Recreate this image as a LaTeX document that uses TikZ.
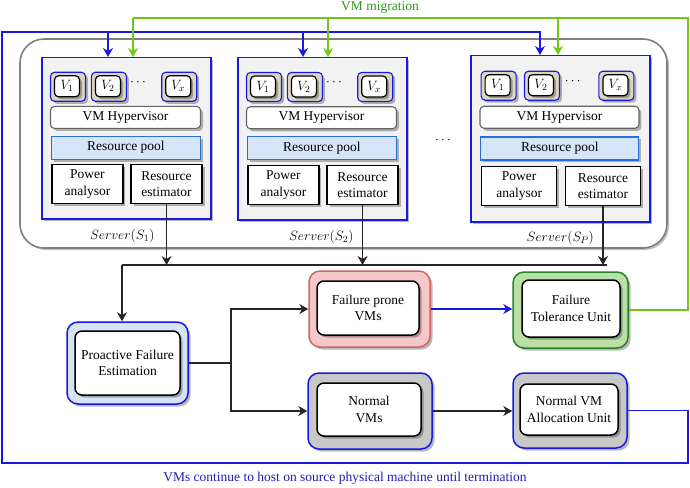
\RequirePackage{fix-cm}
\documentclass[tikz,border=0pt]{standalone}
\usepackage{fontspec}
\setmainfont{Liberation Serif}
\usetikzlibrary{arrows.meta,shadows,calc}
\definecolor{myblue}{RGB}{25,25,225}
\definecolor{txtblue}{RGB}{30,30,180}
\definecolor{mygreen}{RGB}{110,200,20}
\definecolor{txtgreen}{RGB}{50,150,30}
\definecolor{tanfill}{RGB}{218,214,192}
\definecolor{poolfill}{RGB}{214,230,248}
\definecolor{poolline}{RGB}{40,110,215}
\definecolor{pfefill}{RGB}{214,228,246}
\definecolor{redfill}{RGB}{244,200,200}
\definecolor{redline}{RGB}{210,100,100}
\definecolor{grnfill}{RGB}{186,224,168}
\definecolor{grnline}{RGB}{40,130,40}
\definecolor{grayfill}{RGB}{200,200,200}
\tikzset{
  shad/.style={drop shadow={shadow xshift=2.5pt,shadow yshift=-2.5pt,fill=black,opacity=0.28}},
  server/.style={draw=myblue,fill=black!5,line width=1.5pt,shad},
  vout/.style={draw=myblue,fill=tanfill,rounded corners=4pt,line width=1.1pt,minimum width=35,minimum height=29,shad},
  vin/.style={draw=black,fill=white,rounded corners=4pt,line width=1.2pt,minimum width=25,minimum height=21,inner sep=0pt,shad},
  hyp/.style={draw=black!60,fill=white,rounded corners=4pt,line width=1.1pt,minimum height=22,inner sep=0pt,shad},
  pool/.style={draw=poolline,fill=poolfill,line width=1.1pt,minimum height=23,inner sep=0pt,shad},
  comp/.style={draw=black,fill=white,line width=1.3pt,minimum height=39,align=center,inner sep=0pt,shad},
  outerbox/.style={line width=1.5pt,rounded corners=11pt,shad},
  innerbox/.style={draw=black,fill=white,line width=1.5pt,rounded corners=7pt,align=center,inner sep=0pt,shad},
  bline/.style={draw=myblue,line width=1.3pt},
  gline/.style={draw=mygreen,line width=1.3pt},
  kline/.style={draw=black!85,line width=1.4pt},
  tip/.style={-{Stealth[length=9pt,width=10pt]}},
}
\newcommand{\mkserver}[5]{%
  \node[server,anchor=north west,minimum width=#4,minimum height=#5] (#1) at (#2,#3) {};
  \node[vout] (#1v1o) at ($(#1.north west)+({0.16*#4},{0.185*#5})$) {};
  \node[vin] (#1v1) at ($(#1v1o.center)+(-1,-0.5)$) {$V_1$};
  \node[vout] (#1v2o) at ($(#1.north west)+({0.402*#4},{0.185*#5})$) {};
  \node[vin] (#1v2) at ($(#1v2o.center)+(-1,-0.5)$) {$V_2$};
  \node (#1dots) at ($(#1.north west)+({0.574*#4},{0.16*#5})$) {$\cdots$};
  \node[vout] (#1vxo) at ($(#1.north west)+({0.818*#4},{0.185*#5})$) {};
  \node[vin] (#1vx) at ($(#1vxo.center)+(-1,-0.5)$) {$V_x$};
  \node[hyp,minimum width={0.888*#4}] (#1hyp) at ($(#1.north west)+({0.5*#4},{0.375*#5})$) {VM Hypervisor};
  \node[pool,minimum width={0.882*#4}] (#1pool) at ($(#1.north west)+({0.502*#4},{0.563*#5})$) {Resource pool};
  \node[comp,minimum width={0.42*#4}] (#1pa) at ($(#1.north west)+({0.275*#4},{0.79*#5})$) {Power\\analysor};
  \node[comp,minimum width={0.42*#4}] (#1re) at ($(#1.north west)+({0.743*#4},{0.79*#5})$) {Resource\\estimator};
}
\begin{document}
\fontsize{13.5}{16.5}\selectfont
\begin{tikzpicture}[x=1pt,y=-1pt]
\useasboundingbox (0,0) rectangle (690,487);
% big gray container
\draw[draw=black!50,fill=white,line width=1.6pt,rounded corners=24pt,drop shadow={shadow xshift=2pt,shadow yshift=-2pt,fill=black,opacity=0.25}] (20,39) rectangle (667,248);
% servers
\mkserver{sa}{41}{57}{169}{161}
\mkserver{sb}{237}{57}{169}{162}
\mkserver{sc}{470}{55}{179}{166}
\node (la) at ($(sa.south)+(-4,17)$) {$Server(S_1)$};
\node (lb) at ($(sb.south)+(-1,17)$) {$Server(S_2)$};
\node (lc) at ($(sc.south)+(0,16)$) {$Server(S_P)$};
\node (mdots) at (443,140) {$\cdots$};
% bottom boxes
\node[outerbox,draw=myblue,fill=pfefill,minimum width=121,minimum height=82] (pfeO) at (127.5,363) {};
\node[innerbox,minimum width=105,minimum height=64] (pfe) at (127.5,363) {Proactive Failure\\Estimation};
\node[outerbox,draw=redline,fill=redfill,minimum width=121,minimum height=76] (fpO) at (369.5,309) {};
\node[innerbox,minimum width=102,minimum height=54] (fp) at (368,308) {Failure prone\\VMs};
\node[outerbox,draw=grnline,fill=grnfill,minimum width=115,minimum height=76] (ftuO) at (570.5,310) {};
\node[innerbox,minimum width=98,minimum height=57] (ftu) at (571,308.5) {Failure\\Tolerance Unit};
\node[outerbox,draw=myblue,fill=grayfill,minimum width=124,minimum height=76] (nvmO) at (370,411) {};
\node[innerbox,minimum width=104,minimum height=53] (nvm) at (369,409.5) {Normal\\VMs};
\node[outerbox,draw=myblue,fill=grayfill,minimum width=114,minimum height=75] (nvauO) at (570,410.5) {};
\node[innerbox,minimum width=98,minimum height=51] (nvau) at (569,409.5) {Normal VM\\Allocation Unit};
% bus from estimators
\coordinate (busL) at (122,265);
\coordinate (busR) at (607,265);
\draw[kline] (busL) -- (busR);
\draw[kline,tip] (sare.south) -- (sare.south |- busL);
\draw[kline,tip] (sbre.south) -- (sbre.south |- busL);
\draw[kline,tip] (scre.south) -- (scre.south |- busL);
\draw[kline,tip] (busL) -- (busL |- pfeO.north);
% split
\coordinate (split) at (231,363);
\draw[kline] (pfeO.east |- split) -- (split);
\draw[kline,tip] (split) |- (fpO.west);
\draw[kline,tip] (split) |- (nvmO.west);
\draw[bline,tip] (fpO.east) -- (fpO.east -| ftuO.west);
\draw[kline,tip] (nvmO.east) -- (nvmO.east -| nvauO.west);
% blue return loop
\coordinate (bBR) at (688,463);
\coordinate (bTL) at (2,32);
\coordinate (b1) at (108,32);
\coordinate (b2) at (303,32);
\coordinate (b3) at (540,32);
\draw[bline,tip] (nvauO.east) -| (bBR) -| (bTL) -| (b3 |- sc.north);
\draw[bline,tip] (b1) -- (b1 |- sa.north);
\draw[bline,tip] (b2) -- (b2 |- sb.north);
% green migration loop
\coordinate (gTR) at (688,18);
\coordinate (g1) at (133,18);
\coordinate (g2) at (328,18);
\coordinate (g3) at (558,18);
\draw[gline,tip] (ftuO.east) -| (gTR) -| (g3 |- sc.north);
\draw[gline] (g3) -- (g1);
\draw[gline,tip] (g1) -- (g1 |- sa.north);
\draw[gline,tip] (g2) -- (g2 |- sb.north);
% labels
\node[text=txtgreen] (mig) at (380,7) {VM migration};
\node[text=txtblue] (note) at (345,478) {VMs continue to host on source physical machine until termination};
\end{tikzpicture}
\end{document}
